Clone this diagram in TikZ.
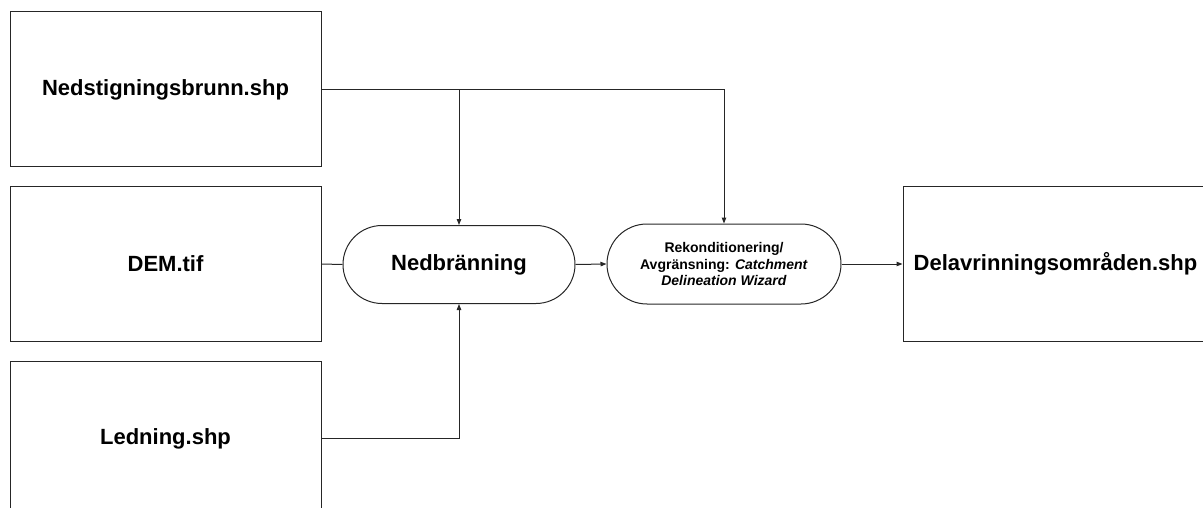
\documentclass[tikz,border=0pt]{standalone}
\usepackage{fontspec}
\setmainfont{Liberation Sans}
\usetikzlibrary{arrows.meta,shapes.misc}
\begin{document}
\begin{tikzpicture}[x=1pt,y=-1pt,
  filebox/.style={draw=black!85,line width=1pt,rectangle,minimum width=311pt,minimum height=155pt,inner sep=0pt,font=\fontsize{22}{26}\selectfont\bfseries},
  procbox/.style={draw=black!85,line width=1pt,rounded rectangle,inner sep=0pt,align=center},
  conn/.style={line width=1pt,draw=black!85},
  arr/.style={conn,-{Triangle[length=6pt,width=4.5pt]}}]
\useasboundingbox (0,0) rectangle (1203,508);
\clip (0,0) rectangle (1203,508);
\node[filebox] (b1) at (165.5,89.5) {Nedstigningsbrunn.shp};
\node[filebox] (b2) at (165.5,264) {DEM.tif};
\node[filebox] (b3) at (165.5,438.5) {Ledning.shp};
\node[filebox,minimum width=320pt] (out) at (1063,264) {\hspace*{-15pt}Delavrinningsområden.shp};
\node[procbox,minimum width=232pt,minimum height=78pt,font=\fontsize{22}{26}\selectfont\bfseries] (nb) at (459,264.5) {Nedbränning};
\node[procbox,minimum width=234pt,minimum height=80pt,font=\fontsize{14}{16.5}\selectfont\bfseries] (rk) at (724,264) {Rekonditionering/\\Avgränsning: \textit{Catchment}\\\textit{Delineation Wizard}};
\coordinate (j1) at (nb.north |- b1.east);
\draw[arr] (b1.east) -| (rk.north);
\draw[arr] (j1) -- (nb.north);
\draw[arr] (b3.east) -| (nb.south);
\draw[conn] (b2.east) -- (nb.west);
\draw[arr] (nb.east) -- (rk.west);
\draw[arr] (rk.east) -- (out.west);
\end{tikzpicture}
\end{document}
